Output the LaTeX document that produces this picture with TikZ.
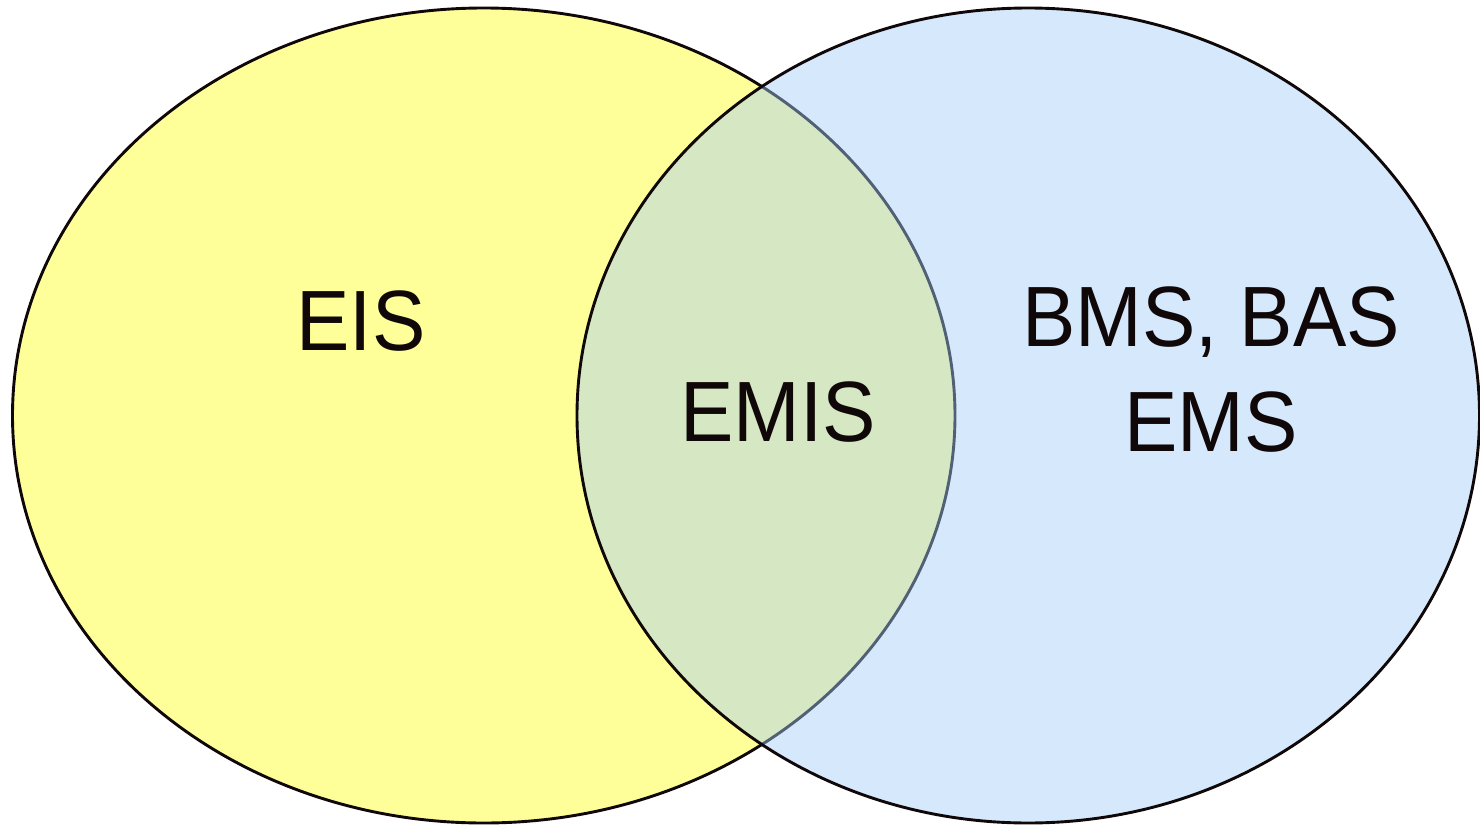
\documentclass[tikz,border=0pt]{standalone}
\usepackage{graphicx}
\usepackage{fontspec}
\setmainfont{Liberation Sans}
\definecolor{eisyellow}{RGB}{255,255,153}
\definecolor{bmsblue}{RGB}{162,204,248}
\definecolor{inkblack}{RGB}{16,8,8}
\newcommand{\tallword}[1]{\scalebox{1}[1.07]{#1}}
\begin{document}
\begin{tikzpicture}[x=0.5pt,y=-0.5pt,line width=1.45pt,
		label/.style={text=inkblack,inner sep=0pt,font=\fontsize{40}{52.5}\selectfont}]
			% --- Parameters ---
			\def\cy{415.5}      % common centre height
			\def\ry{407.5}      % vertical radius of both sets
			\def\xL{483.75}     % centre of left set
			\def\rxL{471.25}    % horizontal radius of left set
			\def\xR{1028.25}    % centre of right set
			\def\rxR{451.25}    % horizontal radius of right set
			\useasboundingbox (0,0) rectangle (1480,825);
			% --- Left set (EIS) ---
			\draw[draw=inkblack, fill=eisyellow] (\xL,\cy) ellipse [x radius=\rxL, y radius=\ry];
			% --- Right set, see-through so the overlap turns green ---
			\draw[draw=inkblack, fill=bmsblue, fill opacity=0.45] (\xR,\cy) ellipse [x radius=\rxR, y radius=\ry];
			% Labels
			\node[label] (eis) at (361,321.5) {\tallword{EIS}};
			\node[label] (emis) at (778,412) {\tallword{EMIS}};
			\node[label, align=center] (bms) at (1211,370) {\tallword{BMS, BAS}\\\tallword{EMS}};
\end{tikzpicture}
\end{document}
